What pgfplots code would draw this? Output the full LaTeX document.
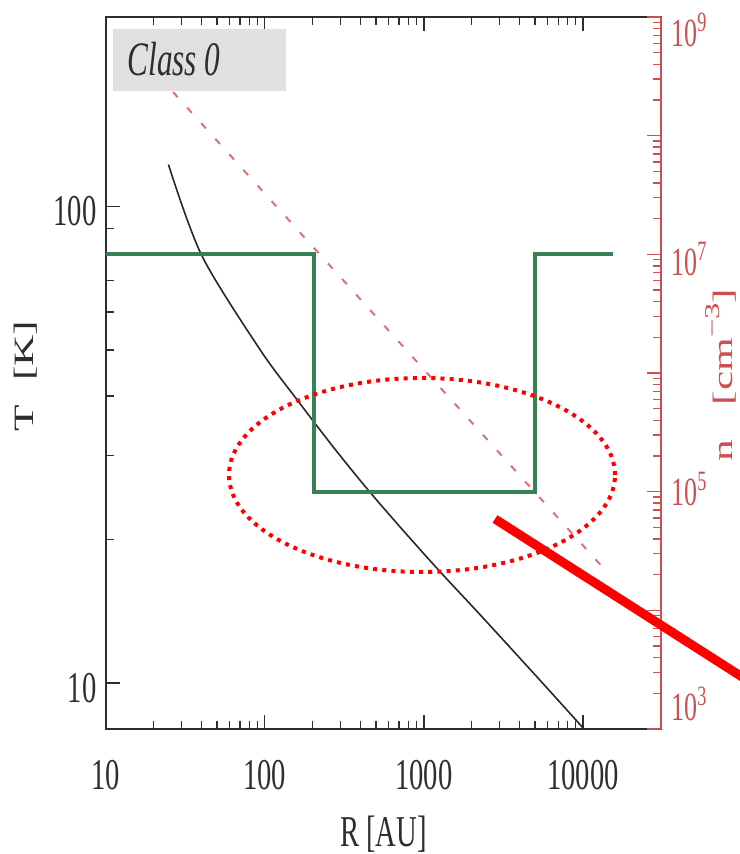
\documentclass[border=0pt]{standalone}
\usepackage{pgfplots}
\pgfplotsset{compat=1.18}
\usepackage{fontspec}
\setmainfont{Liberation Serif}[FakeStretch=0.65]
\newfontfamily\rotfont{Liberation Serif}[FakeStretch=1.55]
\definecolor{axgray}{RGB}{45,45,45}
\definecolor{nred}{RGB}{205,80,80}
\definecolor{pinkd}{RGB}{220,115,115}
\definecolor{grn}{RGB}{55,130,85}
\definecolor{boxgray}{RGB}{224,224,224}
\definecolor{curve}{RGB}{40,40,40}
\begin{document}
\begin{tikzpicture}
\begin{axis}[
 scale only axis, width=277.65pt, height=356pt,
 xmode=log, ymode=log, xmin=10, xmax=3.1e4, ymin=8, ymax=250,
 xtick={10,100,1000,10000}, xticklabels={10,100,1000,10000},
 ytick={10,100}, yticklabels={10,100},
 xtick pos=both, ytick pos=left, tick align=inside,
 major tick length=7pt, minor tick length=4pt,
 axis line style={-, line width=1pt, draw=axgray},
 tick style={line width=0.7pt, draw=axgray},
 tick label style={font=\fontsize{22}{22}\selectfont, inner sep=0pt, text=axgray},
 xticklabel style={yshift=-15.5pt},
 yticklabel style={xshift=-4.5pt, yshift=-2.5pt},
]
\fill[boxgray] (rel axis cs:0.013,0.896) rectangle (rel axis cs:0.325,0.983);
\node[font=\fontsize{24}{24}\selectfont\itshape, text=axgray] at (rel axis cs:0.123,0.941) {Class 0};
\addplot[curve, line width=0.8pt, smooth] coordinates {
(24.8,122.5) (40.2,78.9) (93.3,50.1) (158.8,39.4) (269,31.3) (446.7,25.4) (750,20.8) (1268,17.1) (2259,13.9) (5000,10.4) (9610,8.17) (10050,8.0)};
\coordinate (O) at (rel axis cs:0,0);
\end{axis}
\begin{axis}[
 scale only axis, width=277.65pt, height=356pt,
 xmode=log, ymode=log, xmin=10, xmax=3.1e4, ymin=1e3, ymax=1e9,
 axis x line=none, axis y line*=right,
 ytick={1e3,1e4,1e5,1e6,1e7,1e8,1e9},
 yticklabels={\smash{\raisebox{4.2pt}{10\textsuperscript{3}}},{},\smash{\raisebox{-6.8pt}{10\textsuperscript{5}}},{},\smash{\raisebox{-10.8pt}{10\textsuperscript{7}}},{},\smash{\raisebox{-14.8pt}{10\textsuperscript{9}}}},
 tick align=inside, major tick length=7pt, minor tick length=4pt,
 axis line style={-, line width=1pt, draw=nred},
 tick style={line width=0.7pt, draw=nred},
 yticklabel style={font=\fontsize{20}{20}\selectfont, inner sep=0pt, text=nred, xshift=5pt},
]
\addplot[grn, line width=2pt] coordinates {(10,1e7) (205,1e7) (205,1e5) (5000,1e5) (5000,1e7) (15500,1e7)};
\addplot[pinkd, line width=1pt, dash pattern=on 3.5pt off 7pt] coordinates {(26.5,2.33e8) (13800,2.19e4)};
\end{axis}
\draw[red, line width=2pt, dash pattern=on 2pt off 2.6pt] ([shift={(158.15pt,127pt)}]O) ellipse [x radius=96.5pt, y radius=48.5pt];
\draw[red, line width=4.5pt] ([shift={(194.65pt,105pt)}]O) -- ([shift={(347.15pt,7.5pt)}]O);
\node[font=\fontsize{22}{22}\selectfont, text=axgray] at ([shift={(138.8pt,-52.5pt)}]O) {R [AU]};
\node[rotate=90, font=\rotfont\fontsize{14}{14}\selectfont, text=axgray] at ([shift={(-40pt,176.5pt)}]O) {T\hspace{12pt}[K]};
\node[rotate=90, inner sep=0pt, font=\rotfont\fontsize{14}{14}\selectfont, text=nred] at ([shift={(307.5pt,177pt)}]O) {n\hspace{17pt}[cm\raisebox{0.45em}{\fontsize{10.5}{10.5}\selectfont −3}]};
\pgfresetboundingbox
\path[use as bounding box] ([shift={(-52.85pt,-62.5pt)}]O) rectangle ([shift={(316.65pt,364.5pt)}]O);
\end{tikzpicture}
\end{document}
